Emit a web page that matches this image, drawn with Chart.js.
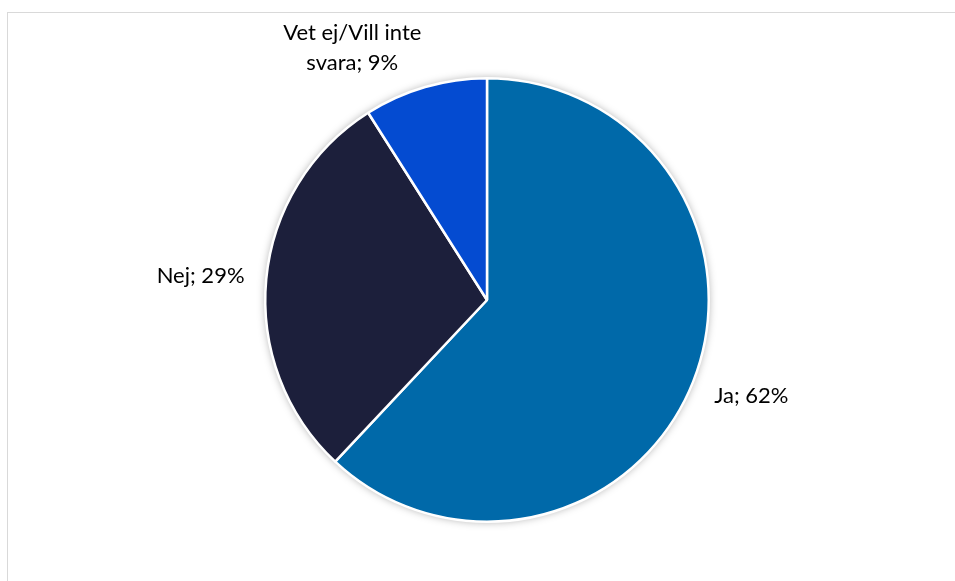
<!DOCTYPE html>
<html>
<head>
<meta charset="utf-8">
<script src="https://cdn.jsdelivr.net/npm/chart.js@4/dist/chart.umd.min.js"></script>
<style>
  html, body { margin: 0; padding: 0; background: #fff; overflow: hidden; }
  #wrap { position: relative; width: 955px; height: 581px; }
  #frame { position: absolute; left: 7px; top: 12px; width: 1000px; height: 700px;
           border: 1.5px solid #d9d9d9; box-sizing: border-box; }
  canvas { position: absolute; left: 0; top: 0; }
</style>
</head>
<body>
<div id="wrap">
  <div id="frame"></div>
  <canvas id="chart" width="955" height="581"></canvas>
</div>
<script>
// answers and their share in percent
const categories = ["Ja", "Nej", "Vet ej/Vill inte svara"];
const shares = [62, 29, 9];
const sliceColors = ["#0069a9", "#1c1f3b", "#044bd1"];
// label text, one entry per line
const labelLines = [["Ja; 62%"], ["Nej; 29%"], ["Vet ej/Vill inte", "svara; 9%"]];

// soft shadow behind the pie, like the office chart
const pieShadow = {
    id: 'pieShadow',
    beforeDatasetsDraw(chart) {
        const arc = chart.getDatasetMeta(0).data[0];
        if (!arc) return;
        const ctx = chart.ctx;
        ctx.save();
        ctx.shadowColor = 'rgba(0,0,0,0.35)';
        ctx.shadowBlur = 9;
        ctx.fillStyle = '#fff';
        ctx.beginPath();
        ctx.arc(arc.x, arc.y, arc.outerRadius, 0, Math.PI * 2);
        ctx.fill();
        ctx.restore();
    }
};

// labels placed outside the slices
const outsideLabels = {
    id: 'outsideLabels',
    afterDatasetsDraw(chart, args, opts) {
        const ctx = chart.ctx;
        const lineH = 30;
        ctx.save();
        ctx.font = '22px Lato, "Open Sans", sans-serif';
        ctx.fillStyle = '#000';
        ctx.textAlign = 'center';
        ctx.textBaseline = 'middle';
        chart.getDatasetMeta(0).data.forEach((arc, i) => {
            const lines = labelLines[i];
            const mid = (arc.startAngle + arc.endAngle) / 2;
            const dx = Math.cos(mid), dy = Math.sin(mid);
            const w = Math.max(...lines.map(l => ctx.measureText(l).width));
            const h = lines.length * lineH;
            const nudge = opts.nudge[i] || [0, 0];
            const cx = arc.x + dx * (arc.outerRadius + opts.gap) + dx * w / 2 + nudge[0];
            const cy = arc.y + dy * (arc.outerRadius + opts.gap) + dy * h / 2 + nudge[1];
            lines.forEach((l, k) => {
                ctx.fillText(l, cx, cy - h / 2 + lineH * (k + 0.5));
            });
        });
        ctx.restore();
    }
};

new Chart(document.getElementById('chart'), {
    type: 'pie',
    data: {
        labels: categories,
        datasets: [{
            data: shares,
            backgroundColor: sliceColors,
            borderColor: '#ffffff',
            borderWidth: 2.5
        }]
    },
    options: {
        responsive: false,
        animation: false,
        layout: { padding: { top: 77, bottom: 58, left: 20, right: 1 } },
        plugins: {
            legend: { display: false },
            tooltip: { enabled: false },
            outsideLabels: { gap: 20, nudge: { 0: [5, 1], 1: [-2, 0], 2: [-48, 9] } }
        }
    },
    plugins: [pieShadow, outsideLabels]
});
</script>
</body>
</html>
